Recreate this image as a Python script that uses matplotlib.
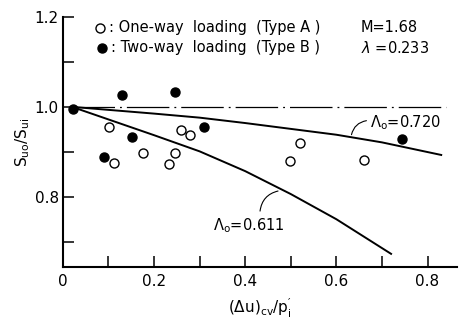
import numpy as np
import matplotlib
matplotlib.use('Agg')
import matplotlib.pyplot as plt

# one-way loading (Type A), open circles
x_a = [0.101, 0.112, 0.176, 0.232, 0.246, 0.259, 0.279, 0.499, 0.520, 0.660]
y_a = [0.955, 0.876, 0.897, 0.873, 0.897, 0.949, 0.937, 0.880, 0.920, 0.882]
# two-way loading (Type B), filled circles
x_b = [0.022, 0.091, 0.129, 0.152, 0.247, 0.309, 0.745]
y_b = [0.996, 0.889, 1.027, 0.932, 1.032, 0.956, 0.928]

# theoretical curves
x_720 = [0.02, 0.2, 0.3, 0.4, 0.5, 0.6, 0.7, 0.83]
y_720 = [1.0, 0.985, 0.976, 0.964, 0.951, 0.938, 0.921, 0.893]
x_611 = [0.02, 0.1, 0.2, 0.3, 0.4, 0.5, 0.6, 0.72]
y_611 = [1.0, 0.972, 0.937, 0.901, 0.857, 0.806, 0.750, 0.673]
x_ref = [0.02, 0.84]
y_ref = [1.0, 1.0]

plt.rcParams['font.family'] = 'DejaVu Sans'
plt.rcParams['mathtext.fontset'] = 'dejavusans'

fig = plt.figure(figsize=(4.59, 3.2), dpi=100)
ax = fig.add_axes([0.137, 0.166, 0.858, 0.781])

ax.plot(x_ref, y_ref, color='black', lw=0.9, dashes=(34, 4, 1.5, 4))
ax.plot(x_720, y_720, color='black', lw=1.4)
ax.plot(x_611, y_611, color='black', lw=1.4)
ax.plot(x_a, y_a, 'o', ms=6.5, mfc='white', mec='black', mew=1.0)
ax.plot(x_b, y_b, 'o', ms=6.5, mfc='black', mec='black')

ax.set_xlim(0, 0.864)
ax.set_ylim(0.644, 1.2)
for s in ['top', 'right']:
    ax.spines[s].set_visible(False)
for s in ['left', 'bottom']:
    ax.spines[s].set_linewidth(1.5)

ax.set_xticks(np.arange(0, 0.85, 0.2))
ax.set_xticklabels(['0', '0.2', '0.4', '0.6', '0.8'])
ax.set_xticks(np.arange(0.1, 0.85, 0.2), minor=True)
ax.set_yticks([0.8, 1.0, 1.2])
ax.set_yticklabels(['0.8', '1.0', '1.2'])
ax.set_yticks([0.7, 0.9, 1.1], minor=True)
ax.tick_params(which='both', direction='in', length=8, width=1.1, labelsize=11)
ax.tick_params(axis='x', pad=5)
ax.tick_params(axis='y', pad=3)

ax.set_ylabel(r'$\mathregular{S_{uo}/S_{ui}}$', fontsize=11, labelpad=2)
ax.set_xlabel(r"$\mathregular{(\Delta u)_{cv}/p^{\prime}_{i}}$", fontsize=11, labelpad=6)

# legend block
ax.plot([0.081], [1.176], 'o', ms=6.5, mfc='white', mec='black', mew=1.0, clip_on=False)
ax.plot([0.085], [1.131], 'o', ms=6.5, mfc='black', mec='black', clip_on=False)
ax.text(0.102, 1.176, ': One-way  loading  (Type A )', fontsize=10.5, va='center')
ax.text(0.106, 1.131, ': Two-way  loading  (Type B )', fontsize=10.5, va='center')
ax.text(0.653, 1.176, 'M=1.68', fontsize=10.5, va='center')
ax.text(0.653, 1.131, r'$\lambda$ =0.233', fontsize=10.5, va='center')

# curve labels with leaders
ax.text(0.673, 0.964, r'$\mathregular{\Lambda_o}$=0.720', fontsize=10.5, va='center')
ax.annotate('', xy=(0.632, 0.932), xytext=(0.672, 0.970),
            arrowprops=dict(arrowstyle='-', lw=0.8, color='black',
                            connectionstyle='arc3,rad=0.4'))
ax.text(0.329, 0.736, r'$\mathregular{\Lambda_o}$=0.611', fontsize=10.5, va='center')
ax.annotate('', xy=(0.478, 0.814), xytext=(0.432, 0.762),
            arrowprops=dict(arrowstyle='-', lw=0.8, color='black',
                            connectionstyle='arc3,rad=-0.4'))

plt.savefig('out.png', dpi=100)
